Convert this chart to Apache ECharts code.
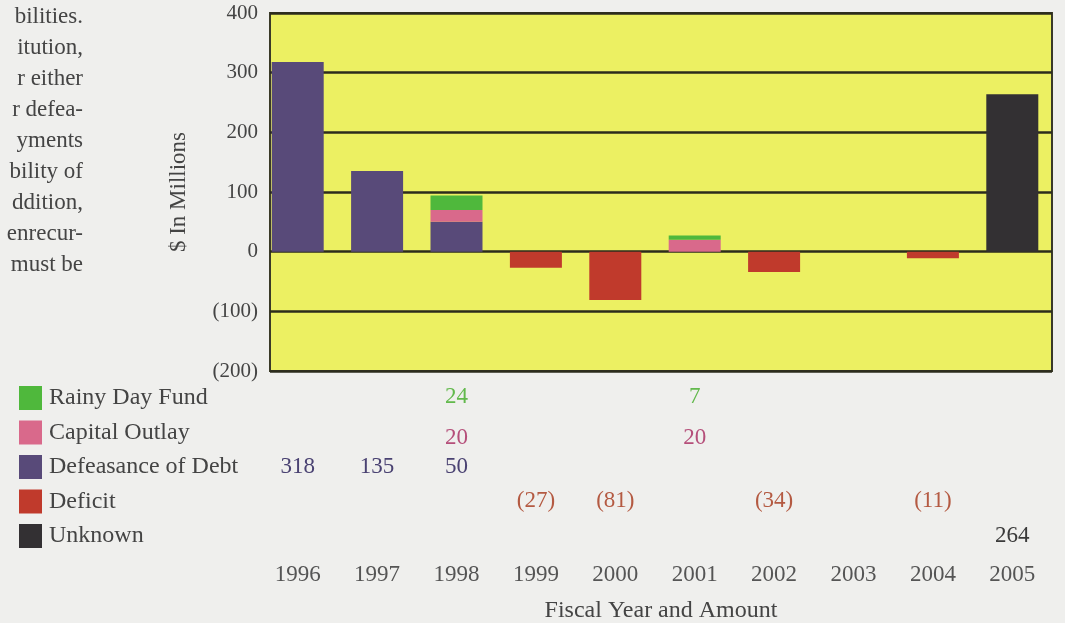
<!DOCTYPE html>
<html>
<head>
<meta charset="utf-8">
<title>Fiscal Year and Amount</title>
<script src="https://cdn.jsdelivr.net/npm/echarts@6/dist/echarts.min.js"></script>
<style>
  html, body { margin: 0; padding: 0; background: #efefed; }
  #chart { width: 1065px; height: 623px; }
</style>
</head>
<body>
<div id="chart"></div>
<script>
// Fiscal years and amounts ($ in millions); null where a year has no entry
const years = ['1996', '1997', '1998', '1999', '2000', '2001', '2002', '2003', '2004', '2005'];
const rainyDayFund  = [null, null, 24, null, null, 7, null, null, null, null];
const capitalOutlay = [null, null, 20, null, null, 20, null, null, null, null];
const defeasance    = [318, 135, 50, null, null, null, null, null, null, null];
const deficit       = [null, null, null, -27, -81, null, -34, null, -11, null];
const unknown       = [null, null, null, null, null, null, null, null, null, 264];

// Value axis range and step
const yMin = -200, yMax = 400, yStep = 100;

// Paragraph fragments running down the left margin
const marginText = ['bilities.', 'itution,', 'r either', 'r defea-', 'yments', 'bility of', 'ddition,', 'enrecur-', 'must be'];

const FONT = '"Liberation Serif", "Times New Roman", serif';
const fmt = v => (v === null || v === undefined) ? '' : (v < 0 ? '(' + Math.abs(v) + ')' : String(v));

const colors = {
  rainy: '#4fb83c',
  capital: '#d9698b',
  defeasance: '#584a79',
  deficit: '#c03a2c',
  unknown: '#333033'
};

const rows = [
  { name: 'Rainy Day Fund', values: rainyDayFund, color: colors.rainy, text: '#62b94c' },
  { name: 'Capital Outlay', values: capitalOutlay, color: colors.capital, text: '#b54f7a' },
  { name: 'Defeasance of Debt', values: defeasance, color: colors.defeasance, text: '#4a4272' },
  { name: 'Deficit', values: deficit, color: colors.deficit, text: '#b45a42' },
  { name: 'Unknown', values: unknown, color: colors.unknown, text: '#3a3a3a' }
];
// vertical offset of each amount row below the plot
const rowOffsets = [14, 55, 84, 118, 153];

const chart = echarts.init(document.getElementById('chart'), null, { renderer: 'canvas' });

const xAxes = [
  {
    // frame grid: carries only the axis title
    gridIndex: 0, type: 'category', data: years,
    axisLine: { show: false }, axisTick: { show: false }, axisLabel: { show: false },
    name: 'Fiscal Year and Amount', nameLocation: 'middle', nameGap: 228,
    nameTextStyle: { fontFamily: FONT, fontSize: 24, color: '#444' }
  },
  {
    // bar grid: year labels
    gridIndex: 1, type: 'category', data: years, position: 'bottom', offset: 192,
    axisLine: { show: false }, axisTick: { show: false },
    axisLabel: { margin: 0, fontFamily: FONT, fontSize: 23, color: '#555', interval: 0 }
  }
];
rows.forEach((r, k) => {
  xAxes.push({
    gridIndex: 1, type: 'category', data: years, position: 'bottom', offset: rowOffsets[k],
    axisLine: { show: false }, axisTick: { show: false }, splitLine: { show: false },
    axisLabel: {
      margin: 0, interval: 0, fontFamily: FONT, fontSize: 23, color: r.text,
      formatter: (v, i) => fmt(r.values[i])
    }
  });
});

const barSeries = (name, values, color) => ({
  name, type: 'bar', stack: 'total', xAxisIndex: 1, yAxisIndex: 1,
  barWidth: 52, data: values, itemStyle: { color }
});

const option = {
  backgroundColor: '#efefed',
  animation: false,
  textStyle: { fontFamily: FONT },
  grid: [
    { // framed plot area
      left: 270, right: 13, top: 13, height: 358, show: true, outerBoundsMode: 'none',
      backgroundColor: '#ecf062', borderColor: '#3a3a28', borderWidth: 2
    },
    { // bars and amount columns
      left: 258, right: 13, top: 13, height: 358, show: false, outerBoundsMode: 'none'
    }
  ],
  legend: {
    orient: 'vertical', left: 14, top: 381,
    itemWidth: 23, itemHeight: 24, itemGap: 10.5,
    icon: 'rect', selectedMode: false,
    data: ['Rainy Day Fund', 'Capital Outlay', 'Defeasance of Debt', 'Deficit', 'Unknown'],
    textStyle: { fontFamily: FONT, fontSize: 24, color: '#444', padding: [0, 0, 0, 2] }
  },
  xAxis: xAxes,
  yAxis: [
    {
      gridIndex: 0, type: 'value', min: yMin, max: yMax, interval: yStep,
      axisLine: { show: false }, axisTick: { show: false },
      axisLabel: { margin: 12, fontFamily: FONT, fontSize: 21, color: '#444', formatter: v => fmt(v) },
      splitLine: { lineStyle: { color: '#2c2c1c', width: 2.5 } },
      name: '$ In Millions', nameLocation: 'middle', nameGap: 80,
      nameTextStyle: { fontFamily: FONT, fontSize: 23, color: '#444' }
    },
    {
      gridIndex: 1, type: 'value', min: yMin, max: yMax, interval: yStep, show: false
    }
  ],
  graphic: marginText.map((t, i) => ({
    type: 'text', right: 1065 - 83, top: 5 + i * 31,
    style: { text: t, fontFamily: FONT, fontSize: 23, fill: '#444', textAlign: 'right' }
  })),
  series: [
    barSeries('Defeasance of Debt', defeasance, colors.defeasance),
    barSeries('Capital Outlay', capitalOutlay, colors.capital),
    barSeries('Rainy Day Fund', rainyDayFund, colors.rainy),
    barSeries('Deficit', deficit, colors.deficit),
    barSeries('Unknown', unknown, colors.unknown)
  ]
};

chart.setOption(option);
</script>
</body>
</html>
